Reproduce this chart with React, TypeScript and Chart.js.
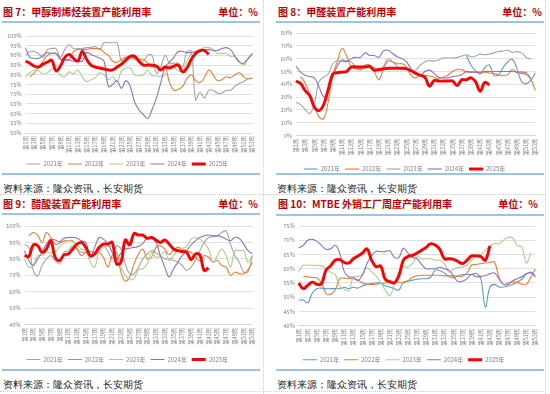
import React, { useEffect, useRef } from 'react';
import { Chart, registerables } from 'chart.js';
Chart.register(...registerables);

const FONT = '"Noto Sans CJK SC", "Noto Sans", sans-serif';

const weeks: string[] = Array.from({ length: 53 }, (_, i) => `第${i + 1}周`);
const years = ['2021年', '2022年', '2023年', '2024年', '2025年'];
const N10: null[] = [null, null, null, null, null, null, null, null, null, null];

// 图7 甲醇制烯烃
const mto2021 = [90,92,92,91,89,93,93.5,93.5,89,93, 95.5,93.5,93.5,93.5,94,94,94.5,93,96.5,96.5, 96.5,96.5,87,89,89.5,89,88,87,90,90, 81,84,90,86,86,86,84,92,92,67, 71,68,72,72,70.5,70.5,72,72,74,75.5, 76.5,78,78];
const mto2022 = [null,79,81,84,87,90,91,91,88,88, 88,92,93,93,93,93.5,93.5,93.5,91.5,90, 87,86.5,88,89,89,88,88,88,86,84, 84,83.5,84,76,72,72.5,74,78,80,77, 76,78.5,82.5,80,77,77.5,79,78.5,80,81, 79,78,78.5];
const mto2023 = [79,81,82.5,82,80.5,81,83,83,80,79, 81.5,80.5,82.5,79,76.5,77.5,78.5,81,80,77.5, 79,76.5,82,83.5,83.5,80,79.5,80,82.5,79.5, 79.5,79,80,85,84,82,82,87,91,92, 93,94,94,93,91,91,91,89.5,89.5,87, 85,88,90.5];
const mto2024 = [94,89,88.5,88.5,90,91.5,91,91,88,87.5, 87.5,87,87,87,91.5,90.5,89.5,88.5,87,74, 75,77,73,77,74,66,62,59.5,57.5,62, 68,76,84,86.5,89,92,92,91.5,91.5,92, 92.5,93,93,92.5,92.5,93.5,94,93,89.5,86.5, 86,88.5,91];
const mto2025 = [87,86,84.5,84,85.5,86.5,87.5,82,84.5,89, 90.5,88.5,87,92,88,85,84,83.5,83,82.5, 82.5,84,85.5,87.5,89.5,89.5,87,85,85,85, 84.5,82.5,84,83.5,84.5,85,81.5,83.5,88,91, 92.5,92.5,90.5, ...N10];

// 图8 甲醛
const hcho2021 = [null,null,null,null,null,null,null,null,null,null, null,null,null,null,null,null,null,null,null,null, null,null,null,null,null,null,null,null,null,null, null,null,null,null,null,null,null, 62.5,55,50.5,48,53,55,47,47.5,53,57.5,59.5,52,42,40.5,43,49];
const hcho2022 = [null,46,41,32,23.5,14.5,13,26.5,47,58, 68,62,53.5,52,52,55,55,50,43.5,52, 58,57.5,56,56,53.5,47,45,47,47,46.5, 45.5,44.5,45.5,47,50,51.5,51.5,49.5,49.5,49.5, 48.8,49.5,48.8,48.5,47,47,47.5,51.5,49,48.5, 47.5,44,35];
const hcho2023 = [26,24,20.5,17,25,42,45.5,48,56,58.5, 57.5,58.5,57.5,53.5,51,53.5,53.5,53,51,54, 60,57.5,54,52,52,50,51,55,57.5,58.5, 58,59,60.5,60.5,60.5,61,62,63,61.5,62, 63.5,63,63.5,64.5,65.5,66,66.5,65,65.5,64.5, 61,59.5,null];
const hcho2024 = [54,49.5,47,46,45,38,30.5,34,46,54.5, 59,57.5,60,61,61,64.5,62.5,62.5,61,66, 66.5,64,61.5,60,57.5,52,48,47,50,51, 48.5,45.5,45,45,46,46.5,47.5,50,49.5,49.5, 49.5,50,50,50,50,50,50,50,49.5,49.5, 49,44.5,null];
const hcho2025 = [42.5,40.5,35,31,22,19.5,24,36,48,49, 49.5,50,53.5,53.5,53.5,53.5,54,51,51.5,52, 52.5,52.5,52.5,52.5,52,50.5,48.5,47,45.5,38.5, 43,42.5,42.5,42.5,42.5,39,43.5,43.5,45,42, 34.5,41.5,39.5, ...N10];

// 图9 醋酸
const hac2021 = [89,87,73,69.5,76,80,82,79,77,84, 85,88,86,84,84,81.5,82,85,88,84.5, 80,88,86,77,71,71,75,80,83,85, 83.5,82,80,80,79,78,76,73,75,79, 85,90,93,93.5,94,96,97,89,82,78, 72,72,82];
const hac2022 = [null,94,96,94.5,90,96,93,89,89.5,91, 91,91,86,82,84,84.5,84,84,81,75, 82,84,72,66.5,69,77,83,86,80,81, 87,88,86,82.5,85.5,87,86,85,84,81, 79,82,81,78,79,76,75,70,72,71, 71,73.5,78];
const hac2023 = [80,75,76,82,82,84,83.5,84,87.5,89.5, 91,90.5,88,86,85,78,75,84,87,87.5, 87.5,81,75,70,67.5,68,73.5,74,77,84, 81,82,84.5,79,82,85.5,86.5,87.5,92,93, 92,89.5,86,78,82,86,82,75,85,85, 85,78,82];
const hac2024 = [85,79,76,80,84,89,92,91.5,90.5,92.5, 93,93,92.5,91,90,81,87,93,92,89.5, 84,80,83.5,86,86.5,87,87.5,89.5,92.5,92.5, 90,82,75,69,74,78,82,85,88.5,91, 93,94,94.5,94,94,93.5,92,91,93,92.5, 89,85,83];
const hac2025 = [82,81.5,88.5,88,84,86,91,81,79,82.5, 83,86,89,90,87,82,83,87,89,89, 90,77,78,91.5,88.5,95.5,94.5,94.5,92.5,93, 91.5,90,91.5,89,86,85,84.5,84,79.5,83, 82.5,73,74.5, ...N10];

// 图10 MTBE
const mtbe2021 = [49,49,48,51.5,53,53.2,53,53,53,53, 53.5,53,53.5,53.2,54,54.5,54.8,55,55,54, 53.6,53,52.5,55.3,55.6,56,56.3,56.5,56.5,57, 59.5,59.3,58.5,57.3,56.8,57.5,58,58,58,58.3, 56.5,46.5,53.5,54.5,53.6,53.6,54,54.5,55.3,56.3, 58,58.8,57.4];
const mtbe2022 = [null,57.2,57.2,56.9,56.8,55,51.3,51,52.5,56.5, 56.7,56.6,56.5,56,55,54.6,54.5,54.6,54.8,55, 55.2,55.3,55.3,55,55.8,57,57.5,57.7,57.7,57.7, 57.7,57.7,57.5,57.5,57.5,57.4,57.4,58.5,61.3,61.5, 61.8,62,62.2,62.4,57,54.5,55,55.3,55.2,54.6, 54.5,57,60];
const mtbe2023 = [59,61.2,61.2,61.2,61.2,61,60,58.8,58,54, 52.8,52.3,57,57.3,58,60.3,59,57.5,55.3,52.5, 50.5,54.5,58.8,60.6,60.6,61.8,64.2,63.5,63.5,63.5, 63,63,61.8,58.8,59.8,60.5,60.6,61.2,63,64.7, 65,66.5,68,68.8,68.8,70,71,70.8,68.2,67.6, 62,65.5,null];
const mtbe2024 = [67.3,68.2,70,70.3,69.6,68.2,66.8,67,68.2,65.5, 59,57.2,57,55.8,57.8,61.8,64.5,66.1,66,66, 66.3,64,64,67.2,65.5,64,63.5,61.5,60,60, 60,60.5,60,59.5,57.5,55.5,55.6,56.6,58,57.2, 57.3,57.6,58.2,58.5,56.5,54.5,54.5,55.8,56.5,57.2, 58.3,58.5,57];
const mtbe2025 = [55,53,54.2,55.3,54.5,54.7,59.5,61,63,63.2, 62.2,62,63.5,64.5,65.5,67,63,60.7,61,56.3, 55.5,55,57.5,63,64.3,64.7,65.5,66.5,67.5,68.8, 68.3,66.8,63.5,63.5,63.3,62.5,61.8,63,64.5,64.5, 64.3,63,68, ...N10];

const GRAY = '#a5a5a5', ORANGE = '#ed7d31', GREEN = '#a9d18e', PURPLE = '#8e72c0', BLUE = '#5b9bd5', RED = '#ff0000';

interface Spec {
  series: (number | null)[][];
  colors: string[];
  min: number; max: number; step: number;
  left: number; top: number; w: number; h: number;
  yW: number; padTop: number; padRight: number; padBottom: number; xH: number;
}

function LineChart({ spec }: { spec: Spec }) {
  const ref = useRef<HTMLCanvasElement>(null);
  useEffect(() => {
    const chart = new Chart(ref.current as HTMLCanvasElement, {
      type: 'line',
      data: {
        labels: weeks,
        datasets: spec.series.map((s, i) => ({
          label: years[i],
          data: s,
          borderColor: spec.colors[i],
          backgroundColor: spec.colors[i],
          borderWidth: i === 4 ? 2.9 : 1.1,
          pointRadius: 0,
          tension: 0.4,
          fill: false,
          order: -i,
        })),
      },
      options: {
        animation: false,
        responsive: false,
        events: [],
        layout: { padding: { top: spec.padTop, right: spec.padRight, bottom: spec.padBottom, left: 0 } },
        plugins: {
          legend: {
            position: 'bottom',
            labels: {
              usePointStyle: true,
              pointStyle: 'line',
              pointStyleWidth: 14,
              boxHeight: 6,
              padding: 5,
              color: '#7f7f7f',
              font: { size: 6, family: FONT },
              sort: (a: any, b: any) => a.datasetIndex - b.datasetIndex,
            },
          },
          tooltip: { enabled: false },
        },
        scales: {
          x: {
            grid: { display: false, drawTicks: false },
            border: { display: true, color: '#d9d9d9' },
            ticks: {
              autoSkip: false,
              maxRotation: 90,
              minRotation: 90,
              padding: 3,
              color: '#7f7f7f',
              font: { size: 5.5, family: FONT },
              callback: (_v: any, i: number) => (i % 2 === 0 ? weeks[i] : ''),
            },
            afterFit: (s: any) => { s.height = spec.xH; },
          },
          y: {
            min: spec.min,
            max: spec.max,
            ticks: {
              stepSize: spec.step,
              autoSkip: false,
              padding: 4,
              color: '#7f7f7f',
              font: { size: 5.5, family: FONT },
              callback: (v: any) => `${v}%`,
            },
            grid: { color: '#d9d9d9', drawTicks: false, lineWidth: 0.8 },
            border: { display: false },
            afterFit: (s: any) => { s.width = spec.yW; },
          },
        },
      } as any,
    });
    return () => chart.destroy();
  }, []);
  return (
    <canvas
      ref={ref}
      width={spec.w}
      height={spec.h}
      style={{ position: 'absolute', left: spec.left, top: spec.top, width: spec.w, height: spec.h }}
    />
  );
}

function Header({ x, y, w, title }: { x: number; y: number; w: number; title: string }) {
  return (
    <>
      <div style={{ position: 'absolute', left: x, top: y, fontFamily: FONT, fontWeight: 700, fontSize: 10, lineHeight: '12px', color: '#c00000', whiteSpace: 'nowrap' }}>{title}</div>
      <div style={{ position: 'absolute', left: x, top: y, width: w, textAlign: 'right', fontFamily: FONT, fontWeight: 700, fontSize: 10, lineHeight: '12px', color: '#c00000', whiteSpace: 'nowrap' }}>单位：%</div>
    </>
  );
}

function Rule({ x, y, w }: { x: number; y: number; w: number }) {
  return <div style={{ position: 'absolute', left: x, top: y, width: w, height: 2, background: '#9dc3e6' }} />;
}

function Source({ x, y }: { x: number; y: number }) {
  return <div style={{ position: 'absolute', left: x, top: y, fontFamily: 'serif', fontSize: 10, lineHeight: '12px', color: '#222', whiteSpace: 'nowrap' }}>资料来源：隆众资讯，长安期货</div>;
}

const specs: Spec[] = [
  { series: [mto2021, mto2022, mto2023, mto2024, mto2025], colors: [GRAY, ORANGE, GREEN, PURPLE, RED], min: 50, max: 100, step: 5,
    left: 0, top: 24, w: 262, h: 156, yW: 25.5, padTop: 12, padRight: 7.5, padBottom: 3, xH: 23 },
  { series: [hcho2021, hcho2022, hcho2023, hcho2024, hcho2025], colors: [BLUE, ORANGE, GRAY, PURPLE, RED], min: 0, max: 80, step: 10,
    left: 270, top: 24, w: 275, h: 158, yW: 26, padTop: 9, padRight: 6, padBottom: 0, xH: 25.5 },
  { series: [hac2021, hac2022, hac2023, hac2024, hac2025], colors: [GRAY, ORANGE, GREEN, PURPLE, RED], min: 40, max: 100, step: 10,
    left: 0, top: 216, w: 262, h: 160, yW: 24.5, padTop: 10, padRight: 7.5, padBottom: 3.5, xH: 26.8 },
  { series: [mtbe2021, mtbe2022, mtbe2023, mtbe2024, mtbe2025], colors: [BLUE, ORANGE, GREEN, PURPLE, RED], min: 40, max: 75, step: 5,
    left: 270, top: 216, w: 275, h: 160, yW: 28.7, padTop: 10, padRight: 7.7, padBottom: 3.2, xH: 26.1 },
];

const dot = '1px dotted #cfcfcf';

export default function App() {
  return (
    <div style={{ position: 'absolute', left: 0, top: 0, width: 550, height: 394, background: '#fff', overflow: 'hidden' }}>
      <div style={{ position: 'absolute', left: 263, top: 0, width: 0, height: 394, borderLeft: dot }} />
      <div style={{ position: 'absolute', left: 545, top: 0, width: 0, height: 394, borderLeft: dot }} />
      <div style={{ position: 'absolute', left: 0, top: 194, width: 546, height: 0, borderTop: dot }} />
      <div style={{ position: 'absolute', left: 0, top: 391, width: 546, height: 0, borderTop: dot }} />

      <Header x={3} y={6} w={255} title="图 7：甲醇制烯烃装置产能利用率" />
      <Header x={278} y={6} w={264} title="图 8：甲醛装置产能利用率" />
      <Header x={3} y={198} w={255} title="图 9：醋酸装置产能利用率" />
      <Header x={278} y={198} w={260} title="图 10：MTBE 外销工厂周度产能利用率" />

      <Rule x={2} y={21} w={258} />
      <Rule x={276} y={21} w={268} />
      <Rule x={2} y={173} w={258} />
      <Rule x={276} y={173} w={268} />
      <Rule x={2} y={213} w={258} />
      <Rule x={276} y={214} w={268} />
      <Rule x={2} y={369} w={258} />
      <Rule x={276} y={369} w={268} />

      <Source x={3} y={183} />
      <Source x={277} y={183} />
      <Source x={3} y={379} />
      <Source x={277} y={379} />

      {specs.map((s, i) => <LineChart key={i} spec={s} />)}
    </div>
  );
}
